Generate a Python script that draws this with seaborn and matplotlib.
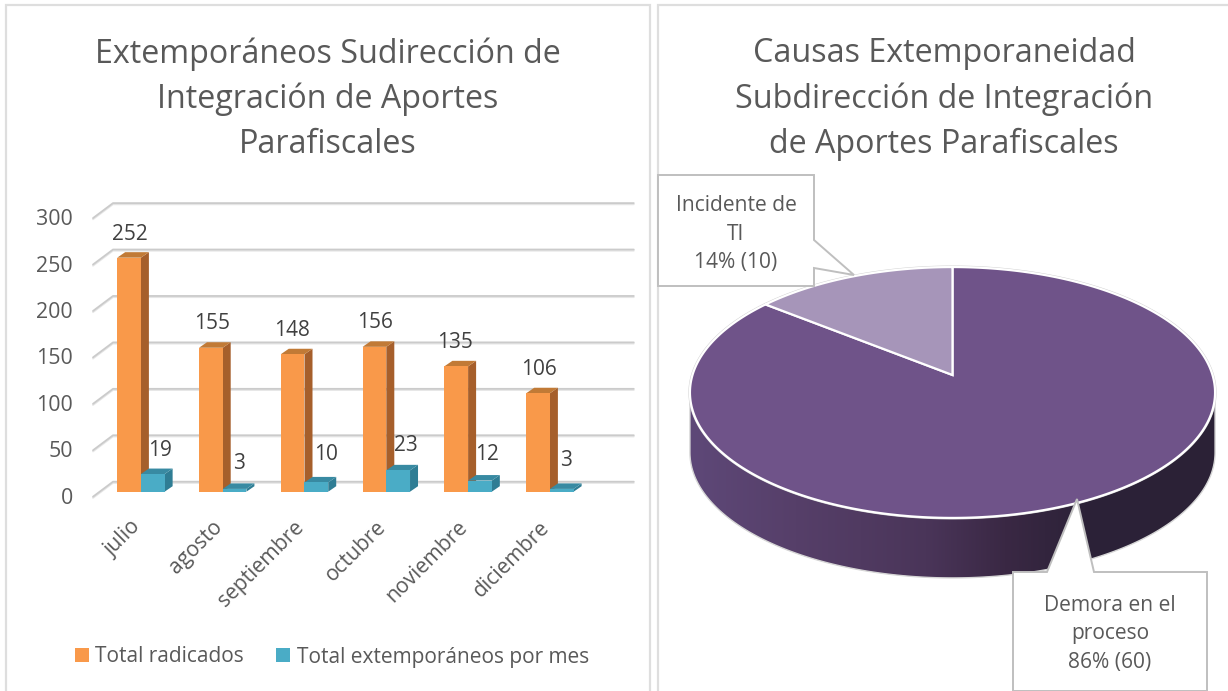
import numpy as np
import pandas as pd
import matplotlib
matplotlib.use("Agg")
import matplotlib.pyplot as plt
from matplotlib.patches import Polygon
from matplotlib.lines import Line2D
from matplotlib.transforms import IdentityTransform, Affine2D
from matplotlib.colors import LinearSegmentedColormap
import seaborn as sns

# ---- data ----
months = ["julio", "agosto", "septiembre", "octubre", "noviembre", "diciembre"]
total_radicados = [252, 155, 148, 156, 135, 106]
total_extemporaneos = [19, 3, 10, 23, 12, 3]
series_names = ["Total radicados", "Total extemporáneos por mes"]
yticks = [0, 50, 100, 150, 200, 250, 300]
pie_labels = ["Demora en el\nproceso\n86% (60)", "Incidente de\nTI\n14% (10)"]
pie_values = [60, 10]

# ---- style ----
sns.set_theme(style="white")
plt.rcParams["font.family"] = ["Open Sans", "DejaVu Sans"]
TXT = "#595959"
W, H = 1228, 691
fig = plt.figure(figsize=(W / 100, H / 100), dpi=100, facecolor="white")

# overlay axes in pixel units: panels, pie, callouts
pa = fig.add_axes([0, 0, 1, 1])

# ---- pie ----
wedges, _ = pa.pie(pie_values, startangle=90, counterclock=False, radius=1)
angles = [(w.theta1, w.theta2) for w in wedges]
for w in wedges:
    w.remove()

CX, CY = 952.5, 375.0
K, B, A = 0.1394, 123.0, 260.0
def project(theta_deg):
    t = np.radians(theta_deg)
    u, v = np.cos(t), np.sin(t)
    w = 1 + K * v
    return CX + A * u / w, CY - B * v / w

tt = np.linspace(0, 360, 721)
rx, ry = project(tt)
il, ir = int(np.argmin(rx)), int(np.argmax(rx))
front = np.linspace(tt[il], tt[ir], 300)
fx, fy = project(front)
DEPTH = 60
wall_pts = np.r_[np.c_[fx, fy], np.c_[fx, fy + DEPTH][::-1]]
wall = Polygon(wall_pts, closed=True, facecolor="none", edgecolor="#d6d6d6", lw=1.0, zorder=3)
pa.add_patch(wall)
stops = [(0.0, "#5e4878"), (0.2, "#563f69"), (0.45, "#4a3559"), (0.6, "#3a2844"), (0.75, "#2c2238"), (1.0, "#2b2136")]
cmap = LinearSegmentedColormap.from_list("wall", stops)
im = pa.imshow(np.linspace(0, 1, 256)[None, :], cmap=cmap, extent=(fx.min(), fx.max(), 590, 380),
               aspect="auto", zorder=2)
im.set_clip_path(wall)

pa.add_patch(Polygon(np.c_[rx, ry], closed=True, facecolor="none", edgecolor="#d0d0d0", lw=2.2, zorder=3.5))
for (a1, a2), col in zip(angles, ["#6f5389", "#a695b9"]):
    th = np.linspace(a1, a2, 300)
    x, y = project(th)
    pts = np.r_[[[CX, CY]], np.c_[x, y]]
    pa.add_patch(Polygon(pts, closed=True, facecolor=col, edgecolor="white", lw=1.6,
                         joinstyle="miter", zorder=4))

# callouts
def callout(pts, text, tx, ty):
    pa.add_patch(Polygon(pts, closed=True, facecolor="white", edgecolor="#bfbfbf", lw=1.4,
                         joinstyle="miter", zorder=6))
    pa.text(tx, ty, text, ha="center", va="center", fontsize=15.1, color=TXT,
            linespacing=1.48, zorder=7)

callout([(658, 175), (814, 175), (814, 240), (854, 275), (814, 268), (814, 286), (658, 286)],
        pie_labels[1], 736, 234)
callout([(1013, 572), (1047, 572), (1077, 499), (1094, 572), (1207, 572), (1207, 691), (1013, 691)],
        pie_labels[0], 1110, 634)

# panels
for x0, x1 in [(6, 650), (658, 1240)]:
    pa.add_patch(Polygon([(x0, 700), (x0, 5), (x1, 5), (x1, 700)], closed=False, facecolor="none",
                         edgecolor="#dedede", lw=1.6, zorder=1, clip_on=False))
pa.set_aspect("auto")
pa.set_xlim(0, W)
pa.set_ylim(H, 0)
pa.set_axis_off()

# ---- bars ----
BL, BR, BB, BT = 100.0, 590.8, 491.7, 213.1
ax = fig.add_axes([BL / W, 1 - BB / H, (BR - BL) / W, (BB - BT) / H])
ax.set_facecolor("none")
df = pd.DataFrame({
    "mes": months * 2,
    "valor": total_radicados + total_extemporaneos,
    "serie": [series_names[0]] * 6 + [series_names[1]] * 6,
})
sns.barplot(data=df, x="mes", y="valor", hue="serie", order=months, hue_order=series_names,
            palette=["#f9994a", "#4aacc6"], width=0.58, gap=0, dodge=True, saturation=1, ax=ax,
            edgecolor="none", linewidth=0)
ax.set_xlim(-0.5, 5.5)
ax.set_ylim(0, 300)
ax.set_yticks(yticks)
ax.set_xlabel("")
ax.set_ylabel("")
sns.despine(ax=ax, left=True, bottom=True)
ax.tick_params(axis="y", length=0, pad=19.5, labelsize=15.4, labelcolor=TXT)
ax.tick_params(axis="x", length=0, pad=8, labelsize=15.2, labelcolor=TXT)
for lab in ax.get_yticklabels():
    lab.set_transform(lab.get_transform() + Affine2D().translate(0, -4))
for lab in ax.get_xticklabels():
    lab.set_rotation(45)
    lab.set_ha("right")
    lab.set_rotation_mode("anchor")
    lab.set_transform(lab.get_transform() + Affine2D().translate(-11, -14))

# back wall grid lines
idt = IdentityTransform()
for v in yticks:
    yb = ax.transData.transform((0, v))[1]
    xl = ax.transAxes.transform((0, 0))[0]
    xr = ax.transAxes.transform((1, 0))[0]
    for off, col, lw in [(-1.2, "#e6e6e6", 1.3), (0, "#cbcbcb", 1.3)]:
        ax.add_line(Line2D([xl - 7, xl + 13, xr + 43], [yb - 5 + off, yb + 10 + off, yb + 10 + off],
                           transform=idt, color=col, lw=lw, clip_on=False, zorder=0.5))

# 3-D faces for the bars
DX, DY = 8, 5.5
faces = [("#a65f2b", "#c17a36", 3), ("#2f7d94", "#388aa2", 4)]
for cont, (side, top, z) in zip(ax.containers, faces):
    for p in cont:
        p.set_zorder(z + 0.1)
        (x0, y0) = ax.transData.transform((p.get_x(), 0))
        (x1, y1) = ax.transData.transform((p.get_x() + p.get_width(), p.get_height()))
        ax.add_patch(Polygon([(x1, y0), (x1 + DX, y0 + DY), (x1 + DX, y1 + DY), (x1, y1)], closed=True,
                             facecolor=side, edgecolor="none", transform=idt, clip_on=False, zorder=z))
        ax.add_patch(Polygon([(x0, y1), (x1, y1), (x1 + DX, y1 + DY), (x0 + DX, y1 + DY)], closed=True,
                             facecolor=top, edgecolor="none", transform=idt, clip_on=False, zorder=z))

# value labels (offsets in px from each bar's top centre)
nudges = [[(1, 23), (1, 24), (-1, 24), (1, 24), (-1, 24), (1, 24)],
          [(7, 24), (4, 25), (10, 28), (8, 25), (7, 26), (4, 28)]]
for cont, nd in zip(ax.containers, nudges):
    for p, (dx, dy) in zip(cont, nd):
        ax.annotate(f"{p.get_height():.0f}", (p.get_x() + p.get_width() / 2, p.get_height()),
                    xytext=(dx * 0.72, dy * 0.72), textcoords="offset points", ha="center", va="center",
                    fontsize=15, color="#404040", zorder=8, annotation_clip=False)

# legend
sns.move_legend(ax, loc="center", bbox_to_anchor=(332 / W, 1 - 657 / H), bbox_transform=fig.transFigure,
                ncol=2, frameon=False, title=None, fontsize=15, handlelength=0.67, handleheight=0.67,
                handletextpad=0.3, columnspacing=1.55, labelcolor=TXT)

# ---- titles ----
fig.text(328 / W, 1 - 99 / H, "Extemporáneos Sudirección de\nIntegración de Aportes\nParafiscales",
         ha="center", va="center", fontsize=23.2, color=TXT, linespacing=1.46)
fig.text(944 / W, 1 - 99 / H, "Causas Extemporaneidad\nSubdirección de Integración\nde Aportes Parafiscales",
         ha="center", va="center", fontsize=23.2, color=TXT, linespacing=1.46)

fig.savefig("out.png", dpi=100)
